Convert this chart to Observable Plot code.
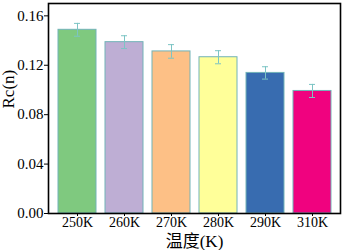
<!DOCTYPE html>
<html><head><meta charset="utf-8">
<script src="https://cdn.jsdelivr.net/npm/d3@7"></script>
<script src="https://cdn.jsdelivr.net/npm/@observablehq/plot@0.6"></script>
<style>body{margin:0;background:#fff} svg, svg text, svg g{font-family:"Liberation Serif","Times New Roman","DejaVu Serif","Noto Sans CJK SC",serif !important;}</style>
</head><body><div id="chart"></div>
<script>
const temps = ["250K","260K","270K","280K","290K","310K"];
const rc = [0.1487, 0.1387, 0.1312, 0.1265, 0.1138, 0.0992];
const errs = [0.0052, 0.0052, 0.0055, 0.0053, 0.0050, 0.0053];
const colors = ["#7fc97f","#beaed4","#fdc086","#ffff99","#386cb0","#f0027f"];
const yTicks = [0, 0.04, 0.08, 0.12, 0.16];

const data = temps.map((t,i)=>({t, v: rc[i], e: errs[i], c: colors[i]}));

const plot = Plot.plot({
  width: 342, height: 250,
  marginLeft: 48, marginRight: 2, marginTop: 3, marginBottom: 37,
  style: {fontFamily: "Liberation Serif, serif", fontSize: "15px", color: "#000", background: "#fff"},
  x: {domain: temps, padding: 0.2, label: null},
  y: {domain: [0, 0.17], label: null},
  marks: [
    Plot.barY(data, {x: "t", y: "v", fill: "c", stroke: "#72b3b8", strokeWidth: 1}),
    Plot.ruleX(data, {x: "t", y1: d=>d.v-d.e, y2: d=>d.v+d.e, stroke: "#7cc4c4", strokeWidth: 1}),
    Plot.tickY(data, {x: "t", y: d=>d.v+d.e, stroke: "#7cc4c4", inset: 16}),
    Plot.tickY(data, {x: "t", y: d=>d.v-d.e, stroke: "#7cc4c4", inset: 16}),
    Plot.axisY({ticks: yTicks, tickFormat: d=>d.toFixed(2), tickSize: 4, tickPadding: 1, label: null, fontSize: 15}),
    Plot.axisX({tickSize: 3, tickPadding: 1, label: null, fontSize: 14}),
    Plot.frame({stroke: "#000", strokeWidth: 1.6}),
    Plot.text(["Rc(n)"], {frameAnchor: "left", rotate: -90, dx: -40, fontSize: 17}),
    Plot.text(["温度(K)"], {frameAnchor: "bottom", lineAnchor: "bottom", dy: 33, fontSize: 17})
  ]
});
document.getElementById("chart").appendChild(plot);
</script>
</body></html>
